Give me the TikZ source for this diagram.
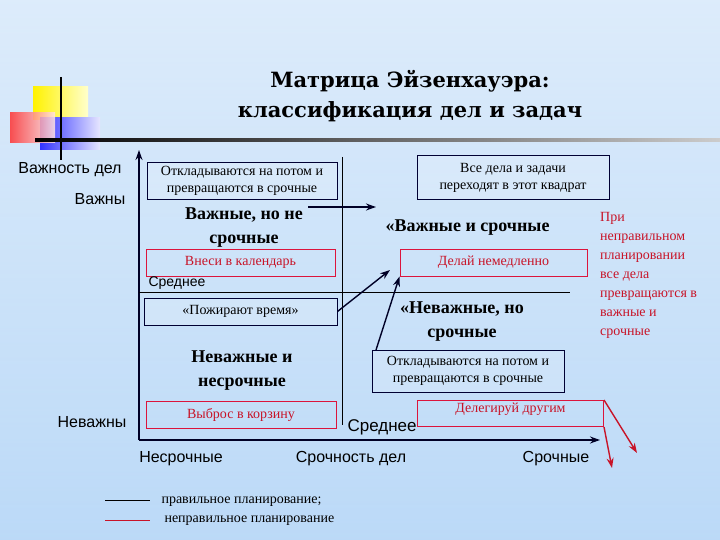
\documentclass[tikz,border=0pt]{standalone}
\usepackage{fontspec}
\setmainfont{Liberation Serif}
\newfontfamily\sansf{Liberation Sans}
\newfontfamily\titlef{DejaVu Serif}
\usetikzlibrary{arrows.meta}
\definecolor{bgblue}{RGB}{120,180,240}
\definecolor{boxred}{RGB}{220,20,60}
\definecolor{txtred}{RGB}{200,20,40}
\begin{document}
\begin{tikzpicture}[x=1pt,y=-1pt,
  bx/.style={draw=black!80!blue,line width=1pt,fill=white,fill opacity=0.15,text opacity=1,inner sep=0pt,font=\fontsize{14}{17}\selectfont,align=center},
  rbx/.style={draw=boxred,line width=1pt,text=txtred,inner sep=0pt,font=\fontsize{14}{17}\selectfont},
  hd/.style={font=\bfseries\fontsize{18}{24}\selectfont,align=center},
  ax/.style={font=\sansf\fontsize{16}{18}\selectfont},
  arr/.style={-{Stealth[length=10pt,width=7pt]},line width=1.4pt,black!85!blue},
  rarr/.style={-{Stealth[length=10pt,width=7pt]},line width=1.4pt,txtred}]
\useasboundingbox (0,0) rectangle (720,540);
\shade[left color=white,right color=bgblue,shading angle=0] (0,0) rectangle (720,540);
\shade[top color=bgblue!50,bottom color=white,opacity=0.5] (0,0) rectangle (720,540);
% decoration
\shade[left color=yellow!90!orange,right color=yellow!20] (33,87) rectangle (88,120);
\shade[left color=blue!80,right color=blue!10] (40,118) rectangle (100,150);
\shade[left color=red!80,right color=red!10,opacity=0.85] (10,113) rectangle (55,143);
\draw[line width=2pt] (61,77) -- (61,160);
\shade[left color=black,right color=gray!40] (35,139) rectangle (720,142);
\node[font=\titlef\bfseries\fontsize{21}{30}\selectfont,align=center] (title) at (410,96) {Матрица Эйзенхауэра:\\классификация дел и задач};
% axes
\coordinate (o) at (139,440);
\coordinate (yt) at (139,150);
\coordinate (xt) at (600,440);
\draw[arr] (o) -- (yt);
\draw[arr] (o) -- (xt);
\draw[line width=0.7pt] (342,157) -- (342,425);
\draw[line width=0.7pt] (139,292) -- (570,292);
% boxes
\node[bx,minimum width=190pt,minimum height=37pt] (b1) at (242,181) {Откладываются на потом и\\превращаются в срочные};
\node[bx,minimum width=192pt,minimum height=44pt] (b2) at (513,178) {Все дела и задачи\\переходят в этот квадрат};
\node[rbx,minimum width=189pt,minimum height=27pt] (r1) at (240.5,262.5) {Внеси в календарь};
\node[rbx,minimum width=187pt,minimum height=27pt] (r2) at (493.5,262.5) {Делай немедленно};
\node[bx,minimum width=193pt,minimum height=27pt] (b3) at (240.5,311.5) {«Пожирают время»};
\node[bx,minimum width=192pt,minimum height=42pt] (b4) at (468,371) {Откладываются на потом и\\превращаются в срочные};
\node[rbx,minimum width=190pt,minimum height=27pt] (r3) at (241,414.5) {Выброс в корзину};
\node[rbx,minimum width=186pt,minimum height=26pt,anchor=north west,text depth=12pt,text height=10pt] (r4) at (417,400) {Делегируй другим};
% headings
\node[hd] (h1) at (244,228) {Важные, но не\\срочные};
\node[hd,anchor=west] (h2) at (382,228) {«Важные и срочные};
\node[hd] (h3) at (462,322) {«Неважные, но\\срочные};
\node[hd] (h4) at (242,371) {Неважные и\\несрочные};
% arrows
\coordinate (a1) at (308,207);
\coordinate (a1e) at (376,207);
\draw[arr] (a1) -- (a1e);
\draw[arr] (b3.east) -- (390,270);
\coordinate (a3) at (376,350);
\draw[arr] (a3) -- (r2.south west);
\draw[rarr] (r4.north east) -- (637,453);
\draw[rarr] (r4.south east) -- (612,468);
% labels
\node[ax,anchor=west,font=\sansf\fontsize{14}{16}\selectfont] (s1) at (145,283) {Среднее};
\node[ax,anchor=west,font=\sansf\fontsize{17}{19}\selectfont] (s2) at (344,427) {Среднее};
\node[ax] (l1) at (70,170) {Важность дел};
\node[ax] (l2) at (100,199) {Важны};
\node[ax] (l3) at (92,422) {Неважны};
\node[ax] (l4) at (181,459) {Несрочные};
\node[ax] (l5) at (351,459) {Срочность дел};
\node[ax] (l6) at (556,459) {Срочные};
\node[anchor=north west,text=txtred,font=\fontsize{14}{19}\selectfont,align=left,inner sep=0pt] (note) at (600,212) {При\\неправильном\\планировании\\все дела\\превращаются в\\важные и\\срочные};
% legend
\coordinate (k1) at (105,500);\coordinate (k2) at (150,500);
\coordinate (k3) at (105,520);\coordinate (k4) at (150,520);
\draw[line width=0.8pt] (k1) -- (k2);
\draw[line width=0.8pt,txtred] (k3) -- (k4);
\node[anchor=west,font=\fontsize{14}{16}\selectfont] (t1) at (158,502) {правильное планирование;};
\node[anchor=west,font=\fontsize{14}{16}\selectfont] (t2) at (161,521) {неправильное планирование};
\end{tikzpicture}
\end{document}
